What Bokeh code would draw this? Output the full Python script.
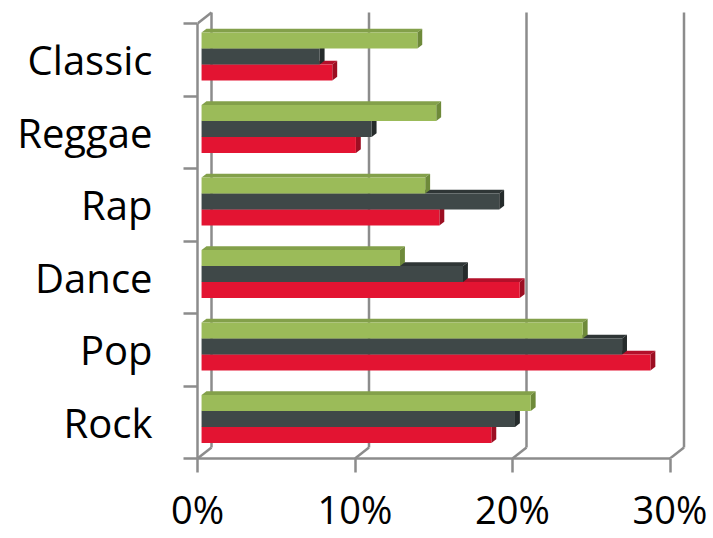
from bokeh.plotting import figure
from bokeh.models import FixedTicker, Range1d
from bokeh.embed import file_html
from bokeh.resources import INLINE

# --- data -----------------------------------------------------------------
categories = ["Rock", "Pop", "Dance", "Rap", "Reggae", "Classic"]   # bottom -> top
series_green = [20.9, 24.2, 12.6, 14.2, 14.9, 13.7]
series_dark = [19.9, 26.7, 16.6, 18.9, 10.8, 7.5]
series_red = [18.4, 28.5, 20.2, 15.1, 9.8, 8.3]
x_ticks = [0, 10, 20, 30]
x_tick_labels = ["0%", "10%", "20%", "30%"]

# --- layout constants ----------------------------------------------------------
PX_PER_PCT = 15.75      # horizontal pixels per percent
PX_PER_UNIT = 36.25     # vertical pixels per half category band
FRAME_W, FRAME_H = 503, 453
DEPTH_PX = (14.0, 11.0)  # oblique depth of the floor (right, up)
DDX = DEPTH_PX[0] / PX_PER_PCT
DDY = DEPTH_PX[1] / PX_PER_UNIT
BAR_FRONT, BAR_BACK = 0.29, 0.64   # depth fractions of the bar slab
BAR_H = 16.0 / PX_PER_UNIT

GRID = "#8C8C8C"
FONT = "Open Sans"

styles = [  # (values, front, top, side) drawn bottom bar first
    (series_red, "#E31432", "#B3102A", "#9C0E22"),
    (series_dark, "#3F4848", "#2F3636", "#252B2B"),
    (series_green, "#9BBB59", "#83A04A", "#6E8A3A"),
]

p = figure(
    frame_width=FRAME_W, frame_height=FRAME_H,
    x_range=Range1d(0, FRAME_W / PX_PER_PCT),
    y_range=Range1d(0, FRAME_H / PX_PER_UNIT),
    min_border_left=197, min_border_right=13,
    min_border_top=5, min_border_bottom=80,
    output_backend="svg", toolbar_location=None,
)
p.outline_line_color = None
p.xgrid.visible = False
p.ygrid.visible = False
p.background_fill_color = "white"
p.border_fill_color = "white"

n = len(categories)
top_y = 2 * n

# back wall gridlines and floor/top diagonals
gx = [t + DDX for t in x_ticks]
p.segment(x0=gx, y0=[DDY] * len(gx), x1=gx, y1=[top_y + DDY] * len(gx),
          line_color=GRID, line_width=2.5)
p.segment(x0=x_ticks, y0=[0] * len(x_ticks), x1=gx, y1=[DDY] * len(gx),
          line_color=GRID, line_width=2.5)
p.segment(x0=[0], y0=[top_y], x1=[DDX], y1=[top_y + DDY],
          line_color=GRID, line_width=2.5)

# 3D bars
fx, fy = BAR_FRONT * DDX, BAR_FRONT * DDY
bx, by = (BAR_BACK - BAR_FRONT) * DDX, (BAR_BACK - BAR_FRONT) * DDY
for k, (vals, c_front, c_top, c_side) in enumerate(styles):
    fronts_x, fronts_y, tops_x, tops_y, sides_x, sides_y = [], [], [], [], [], []
    for i, v in enumerate(vals):
        center = 2 * i + 1
        y0 = center - 1.5 * BAR_H + k * BAR_H + fy
        y1 = y0 + BAR_H
        x0 = fx
        x1 = fx + v
        fronts_x.append([x0, x1, x1, x0])
        fronts_y.append([y0, y0, y1, y1])
        tops_x.append([x0, x1, x1 + bx, x0 + bx])
        tops_y.append([y1, y1, y1 + by, y1 + by])
        sides_x.append([x1, x1 + bx, x1 + bx, x1])
        sides_y.append([y0, y0 + by, y1 + by, y1])
    p.patches(tops_x, tops_y, fill_color=c_top, line_color=None)
    p.patches(sides_x, sides_y, fill_color=c_side, line_color=None)
    p.patches(fronts_x, fronts_y, fill_color=c_front, line_color=None)

# front axes
xa = p.xaxis[0]
xa.ticker = FixedTicker(ticks=x_ticks)
xa.major_label_overrides = {t: lab for t, lab in zip(x_ticks, x_tick_labels)}
xa.bounds = (0, x_ticks[-1])
xa.axis_line_color = GRID
xa.axis_line_width = 2.5
xa.major_tick_line_color = GRID
xa.major_tick_line_width = 2.5
xa.major_tick_out = 14
xa.major_tick_in = 0
xa.minor_tick_line_color = None
xa.major_label_text_font = FONT
xa.major_label_text_font_size = "38px"
xa.major_label_text_color = "black"
xa.major_label_standoff = 10

ya = p.yaxis[0]
centers = [2 * i + 1 for i in range(n)]
ya.ticker = FixedTicker(ticks=centers, minor_ticks=list(range(0, top_y + 1, 2)))
ya.major_label_overrides = {c: name for c, name in zip(centers, categories)}
ya.bounds = (0, top_y)
ya.axis_line_color = GRID
ya.axis_line_width = 2.5
ya.major_tick_out = 0
ya.major_tick_in = 0
ya.minor_tick_out = 14
ya.minor_tick_in = 0
ya.minor_tick_line_color = GRID
ya.minor_tick_line_width = 2.5
ya.major_label_text_font = FONT
ya.major_label_text_font_size = "40px"
ya.major_label_text_color = "black"
ya.major_label_standoff = 31

open("out.html", "w").write(file_html(p, INLINE))
